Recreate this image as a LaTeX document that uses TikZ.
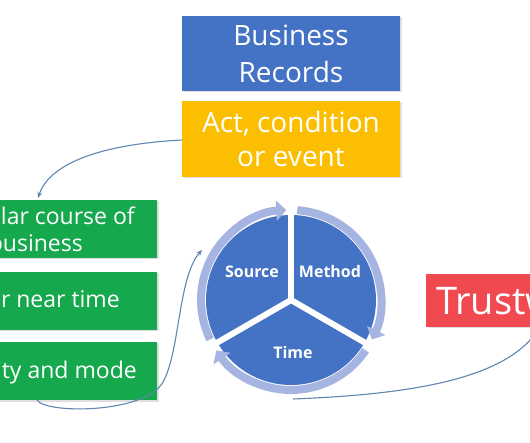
\documentclass[tikz,border=0pt]{standalone}
\usepackage{fontspec}
\setmainfont{Open Sans}
\usetikzlibrary{arrows.meta,shadows}
\definecolor{bblue}{RGB}{68,114,196}
\definecolor{borange}{RGB}{252,190,0}
\definecolor{bgreen}{RGB}{22,168,76}
\definecolor{bred}{RGB}{240,74,80}
\definecolor{ring}{RGB}{165,180,224}
\definecolor{conn}{RGB}{95,135,178}
\tikzset{
  box/.style={draw=none, inner sep=0pt, minimum height=#1,
    drop shadow={opacity=0.25, shadow xshift=1.5pt, shadow yshift=-1.5pt}},
  bigtext/.style={text=white, font=\fontsize{28}{37}\selectfont, align=center},
  greentext/.style={text=white, font=\fontsize{23}{27}\selectfont, inner sep=0pt},
  pietext/.style={text=white, font=\bfseries\fontsize{16}{18}\selectfont},
  connector/.style={draw=conn, line width=1.1pt},
  ringarc/.style={draw=ring, line width=8pt, -{Triangle[width=20pt,length=10pt]}},
  sep/.style={draw=white, line width=6pt}
}
\begin{document}
\begin{tikzpicture}[x=1pt,y=1pt]
\useasboundingbox (0,0) rectangle (530,442);
\clip (0,0) rectangle (530,442);
\fill[white] (0,0) rectangle (530,442);

% top boxes
\node[box=75pt, fill=bblue, minimum width=218pt] (records) at (291,388.5) {};
\node[bigtext] (recordsT) at (records.center) {Business\\Records};
\node[box=76pt, fill=borange, minimum width=218pt] (act) at (291,303) {};
\node[bigtext, font=\fontsize{28}{34}\selectfont] (actT) at (act.center) {Act, condition\\or event};

% green boxes (cut off at left)
\node[box=58pt, fill=bgreen, minimum width=277pt] (g1) at (18.5,213) {};
\node[box=58pt, fill=bgreen, minimum width=277pt] (g2) at (18.5,141) {};
\node[box=58pt, fill=bgreen, minimum width=277pt] (g3) at (18.5,71) {};
\node[greentext, anchor=base east] (g1a) at (135,217) {lar course of};
\node[greentext, anchor=base east] (g1b) at (83,190) {business};
\node[greentext, anchor=base east] (g2a) at (120,134) {r near time};
\node[greentext, anchor=base east] (g3a) at (137,64) {ty and mode};

% red box (cut off at right)
\node[box=53pt, fill=bred, minimum width=214pt] (trust) at (533,141.5) {};
\node[text=white, font=\fontsize{38}{40}\selectfont, inner sep=0pt, anchor=base west] (trustT) at (436,127) {Trustw};

% cycle
\coordinate (c) at (291,142);
\fill[bblue] (c) circle[radius=85];
\draw[ringarc] (c) ++(206:90) arc[start angle=206, end angle=93, radius=90];
\draw[ringarc] (c) ++(86:90) arc[start angle=86, end angle=-26, radius=90];
\draw[ringarc] (c) ++(-34:90) arc[start angle=-34, end angle=-146, radius=90];
\draw[sep] (c) -- ++(90:97);
\draw[sep] (c) -- ++(-30:97);
\draw[sep] (c) -- ++(210:97);
\node[pietext] (source) at (252,170) {Source};
\node[pietext] (method) at (330,170) {Method};
\node[pietext] (time) at (293,90) {Time};

% connectors
\coordinate (g1top) at (38,244);
\coordinate (actleft) at (182,302);
\draw[connector, -{Stealth[length=6pt,width=5pt]}] (actleft) .. controls (105,298) and (50,280) .. (g1top);

\coordinate (g3bot) at (37,42);
\coordinate (mid2) at (163,60);
\coordinate (circin) at (202,192);
\draw[connector, -{Stealth[length=6pt,width=5pt]}] (g3bot) .. controls (45,28) and (145,28) .. (mid2) .. controls (180,90) and (178,165) .. (circin);

\coordinate (circbot) at (293,43);
\coordinate (trustend) at (540,115);
\draw[connector] (circbot) .. controls (420,48) and (510,65) .. (trustend);
\end{tikzpicture}
\end{document}
